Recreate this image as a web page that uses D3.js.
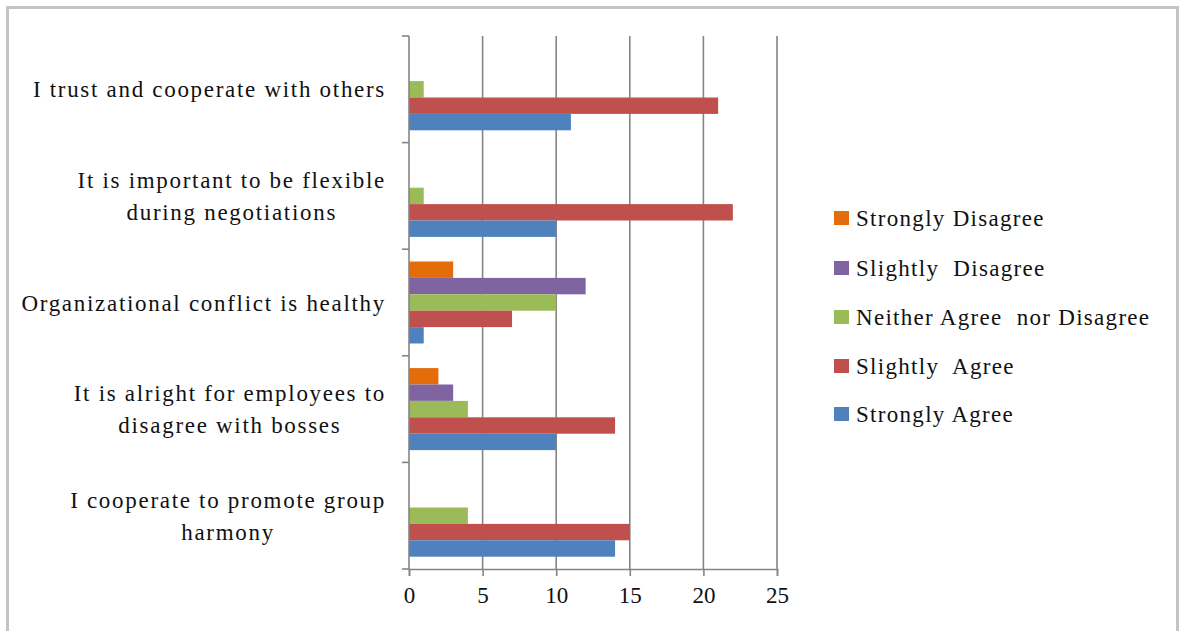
<!DOCTYPE html>
<html><head><meta charset="utf-8">
<script src="https://cdn.jsdelivr.net/npm/d3@7"></script>
<style>html,body{margin:0;padding:0;background:#fff;}svg{display:block;}</style>
</head><body>
<svg id="chart" width="1179" height="631"></svg>
<script>
const categories = [
  ["I trust and cooperate with others"],
  ["It is important to be flexible", "during negotiations"],
  ["Organizational conflict is healthy"],
  ["It is alright for employees to", "disagree with bosses"],
  ["I cooperate to promote group", "harmony"]
];
const seriesNames = ["Strongly Disagree", "Slightly  Disagree", "Neither Agree  nor Disagree", "Slightly  Agree", "Strongly Agree"];
const seriesColors = ["#E46C0A", "#8064A2", "#9BBB59", "#C0504D", "#4F81BD"];
const stronglyDisagree = [0, 0, 3, 2, 0];
const slightlyDisagree = [0, 0, 12, 3, 0];
const neither = [1, 1, 10, 4, 4];
const slightlyAgree = [21, 22, 7, 14, 15];
const stronglyAgree = [11, 10, 1, 10, 14];
const xTicks = [0, 5, 10, 15, 20, 25];

const seriesValues = [stronglyDisagree, slightlyDisagree, neither, slightlyAgree, stronglyAgree];

const svg = d3.select("#chart");
const font = "'Liberation Serif', 'Times New Roman', serif";
const fs = 23, ls = 1.3, lsLabel = 1.7;

// outer border
svg.append("path").attr("d", "M7.5,640 V7.5 H1177.5 V640").attr("fill", "none")
  .attr("stroke", "#c4c4c4").attr("stroke-width", 3);

const x = d3.scaleLinear().domain([0, 25]).range([409, 777]);
const catIdx = categories.map((d, i) => i);
const y = d3.scaleBand().domain(catIdx).range([36, 569]).paddingInner(1.5 / 6.5).paddingOuter(0.75 / 6.5);
const ySeries = d3.scaleBand().domain(d3.range(seriesNames.length)).range([0, y.bandwidth()]);

// gridlines
svg.append("g").selectAll("line").data(xTicks.filter(t => t > 0)).join("line")
  .attr("x1", d => x(d)).attr("x2", d => x(d)).attr("y1", 36).attr("y2", 569)
  .attr("stroke", "#858585").attr("stroke-width", 1.6);

// bars
seriesValues.forEach((vals, s) => {
  svg.append("g").selectAll("rect").data(vals).join("rect")
    .attr("x", x(0))
    .attr("y", (d, i) => y(i) + ySeries(s))
    .attr("width", d => x(d) - x(0))
    .attr("height", ySeries.bandwidth())
    .attr("fill", seriesColors[s]);
});

// y axis line and ticks (category boundaries)
const yAxis = svg.append("g");
yAxis.append("line").attr("x1", 409).attr("x2", 409).attr("y1", 36).attr("y2", 569)
  .attr("stroke", "#858585").attr("stroke-width", 1.6);
const boundaries = catIdx.map(i => y(i) - y.step() * y.paddingOuter()).concat([569]);
yAxis.selectAll("line.tk").data(boundaries).join("line").attr("class", "tk")
  .attr("x1", 402).attr("x2", 409).attr("y1", d => d).attr("y2", d => d)
  .attr("stroke", "#858585").attr("stroke-width", 1.6);

// x axis
const xAxis = svg.append("g").attr("transform", "translate(0,569)")
  .call(d3.axisBottom(x).tickValues(xTicks).tickSize(7).tickPadding(11));
xAxis.select(".domain").attr("stroke", "#858585").attr("stroke-width", 1.6);
xAxis.selectAll(".tick line").attr("stroke", "#858585").attr("stroke-width", 1.6);
xAxis.selectAll(".tick text").attr("font-family", font).attr("font-size", fs).attr("fill", "#111");

// category labels
const labelRight = 386;
const lineH = 32;
const lg = svg.append("g").attr("font-family", font).attr("font-size", fs).attr("fill", "#111")
  .style("letter-spacing", lsLabel + "px");
categories.forEach((lines, i) => {
  const cy = y(i) + y.bandwidth() / 2;
  const t = lg.append("text").attr("text-anchor", "middle");
  const spans = lines.map((ln, k) => t.append("tspan").text(ln)
    .attr("y", cy + (k - (lines.length - 1) / 2) * lineH).attr("dy", "0.35em"));
  const maxW = d3.max(spans, sp => sp.node().getComputedTextLength());
  spans.forEach(sp => sp.attr("x", labelRight - maxW / 2));
});

// legend
const legendY = [218, 268, 317, 366, 414];
const leg = svg.append("g").attr("font-family", font).attr("font-size", fs).attr("fill", "#111")
  .style("letter-spacing", ls + "px");
seriesNames.forEach((n, s) => {
  leg.append("rect").attr("x", 834).attr("y", legendY[s] - 7).attr("width", 15).attr("height", 14).attr("fill", seriesColors[s]);
  leg.append("text").attr("x", 856).attr("y", legendY[s]).attr("dy", "0.35em").style("white-space", "pre").text(n);
});
</script>
</body></html>
